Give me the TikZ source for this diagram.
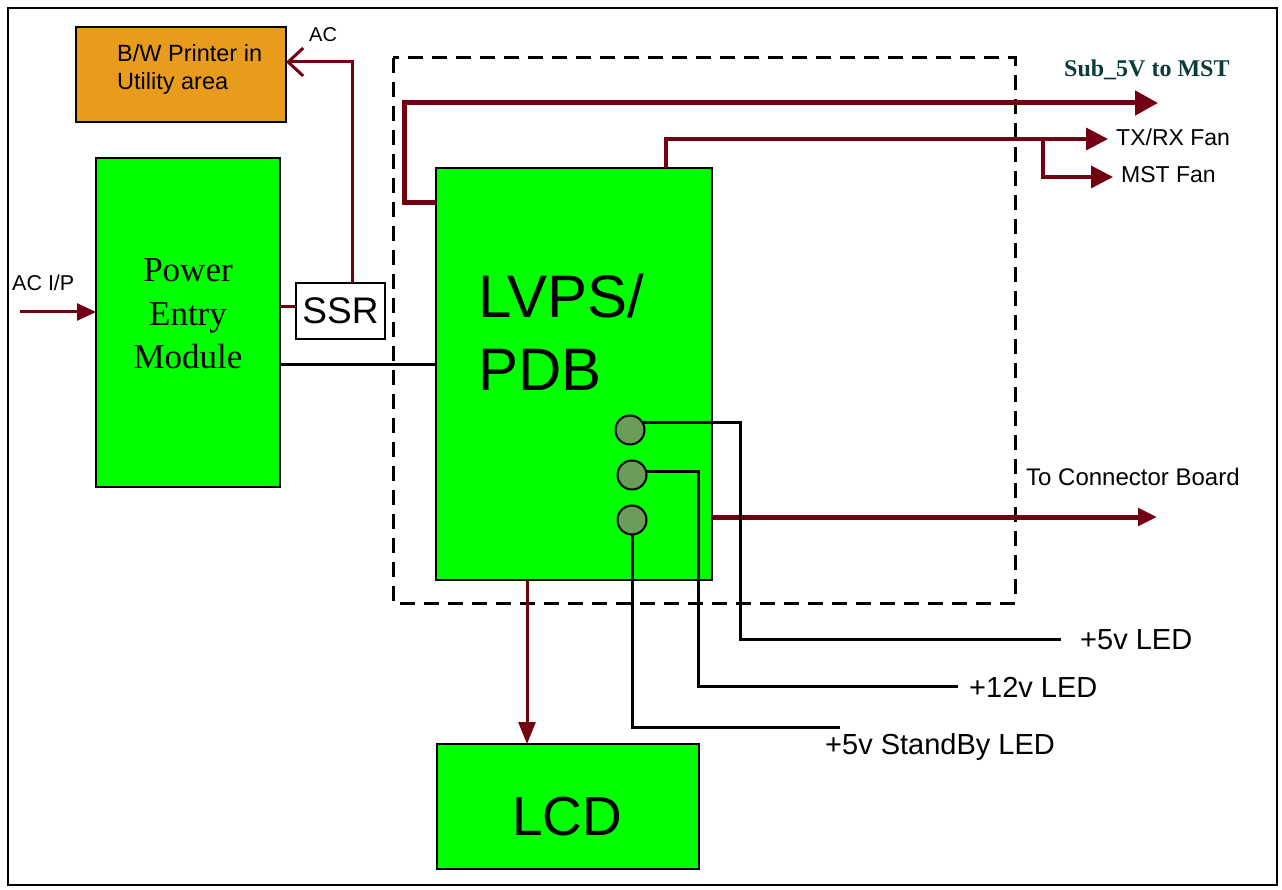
\documentclass[tikz,border=0pt]{standalone}
\usepackage{fontspec}
\setmainfont{Liberation Sans}
\newfontfamily\serifT{Liberation Serif}
\usetikzlibrary{arrows.meta}
\definecolor{dred}{HTML}{730012}
\definecolor{bgreen}{HTML}{00FF00}
\definecolor{orng}{HTML}{E89C1C}
\definecolor{ledg}{HTML}{6A9E58}
\definecolor{teal5}{HTML}{0B3B3B}
\newcommand{\fs}[1]{\fontsize{#1}{#1}\selectfont}
\begin{document}
\begin{tikzpicture}[x=1pt,y=-1pt,
  box/.style={draw=black,line width=1.5pt,fill=bgreen,anchor=north west,inner sep=0pt,outer sep=0pt},
  led/.style={circle,draw=black,line width=2pt,fill=ledg,minimum size=29pt,inner sep=0pt,outer sep=0pt},
  lbl/.style={anchor=west,inner sep=0pt},
  redthin/.style={draw=dred,line width=3pt},
  redmed/.style={draw=dred,line width=3.5pt},
  redthick/.style={draw=dred,line width=5pt},
  blk/.style={draw=black,line width=3pt},
  bigtip/.style={-{Triangle[length=23pt,width=24pt]}},
  medtip/.style={-{Triangle[length=22pt,width=22pt]}},
  smalltip/.style={-{Triangle[length=19pt,width=17pt]}}]
\fill[white] (0,0) rectangle (1282,890);
\useasboundingbox (0,0) rectangle (1282,890);
\draw[line width=1.5pt] (8,8) rectangle (1277,885);

% dashed enclosure
\draw[line width=3pt,dash pattern=on 15pt off 9pt] (393,58) rectangle (1015,603);

% boxes
\node[box,fill=orng,line width=2pt,minimum width=210pt,minimum height=95pt] (printer) at (76,27) {};
\node[box,minimum width=184pt,minimum height=329pt] (pem) at (96,158) {};
\node[box,fill=white,minimum width=89pt,minimum height=56pt,font=\fs{37}] (ssr) at (296,283) {SSR};
\node[box,minimum width=276pt,minimum height=412pt] (lvps) at (436,168) {};
\node[box,minimum width=262pt,minimum height=125pt] (lcd) at (437,744) {};

% box texts
\node[anchor=west,inner sep=0pt,align=left,font=\fontsize{23.5}{28}\selectfont] (printertext) at (117,69) {B/W Printer in\\Utility area};
\node[inner sep=0pt,align=center,font=\serifT\fontsize{35}{43.5}\selectfont] (pemtext) at (188,314) {Power\\Entry\\Module};
\node[anchor=base west,inner sep=0pt,font=\fs{60}] (lvpsA) at (478,318) {LVPS/};
\node[anchor=base west,inner sep=0pt,font=\fs{60}] (lvpsB) at (478,390) {PDB};
\node[anchor=base west,inner sep=0pt,font=\fs{55}] (lcdtext) at (512,835) {LCD};

% LEDs
\node[led] (led1) at (630,430) {};
\node[led] (led2) at (632,475) {};
\node[led] (led3) at (632,520) {};

% labels
\node[lbl,font=\fs{21.5}] (acip) at (12,283) {AC I/P};
\node[lbl,font=\fs{20}] (aclbl) at (309,35) {AC};
\node[lbl,font=\serifT\bfseries\fs{24},text=teal5] (sublbl) at (1064,70) {Sub\_5V to MST};
\node[lbl,font=\fs{23}] (txlbl) at (1116,137) {TX/RX Fan};
\node[lbl,font=\fs{23}] (mstlbl) at (1121,175) {MST Fan};
\node[lbl,font=\fs{24}] (conlbl) at (1026,477) {To Connector Board};
\node[lbl,font=\fs{29}] (l5) at (1080,640) {+5v LED};
\node[lbl,font=\fs{29}] (l12) at (969,687) {+12v LED};
\node[lbl,font=\fs{29}] (lsb) at (825,747) {+5v StandBy LED};

% free ends
\coordinate (acin) at (20,312);
\coordinate (subend) at (1158,103);
\coordinate (txend) at (1108,139);
\coordinate (mstend) at (1113,177);
\coordinate (conend) at (1157,517);
\coordinate (e5) at (1061,639);
\coordinate (e12) at (958,686);
\coordinate (esb) at (840,727);

% red connectors
\draw[redthin,smalltip] (acin) -- (acin -| pem.west);
\draw[redthin] (pem.east |- 0,307) -- (ssr.west |- 0,307);
\draw[redthin,-{Straight Barb[length=15pt,width=28pt]}] (ssr.north -| 352,0) -- (352,62) -- (printer.east |- 0,62);
\draw[redthick,bigtip] (lvps.west |- 0,203) -- (404,203) -- (404,103) -- (subend);
\draw[redmed,medtip] (lvps.north -| 666,0) -- (666,139) -- (txend);
\draw[redmed,medtip] (1043,139) -- (1043,177) -- (mstend);
\draw[redthick,smalltip] (lvps.east |- conend) -- (conend);
\draw[redthin,-{Triangle[length=22pt,width=17pt]}] (lvps.south -| 527,0) -- (lcd.north -| 527,0);

% black connectors
\draw[blk] (pem.east |- 0,365) -- (lvps.west |- 0,365);
\draw[blk] (led1.30) -| (740,639) -- (e5);
\draw[blk] (led2.15) -| (698,686) -- (e12);
\draw[blk] (led3.south) |- (esb);
\end{tikzpicture}
\end{document}
